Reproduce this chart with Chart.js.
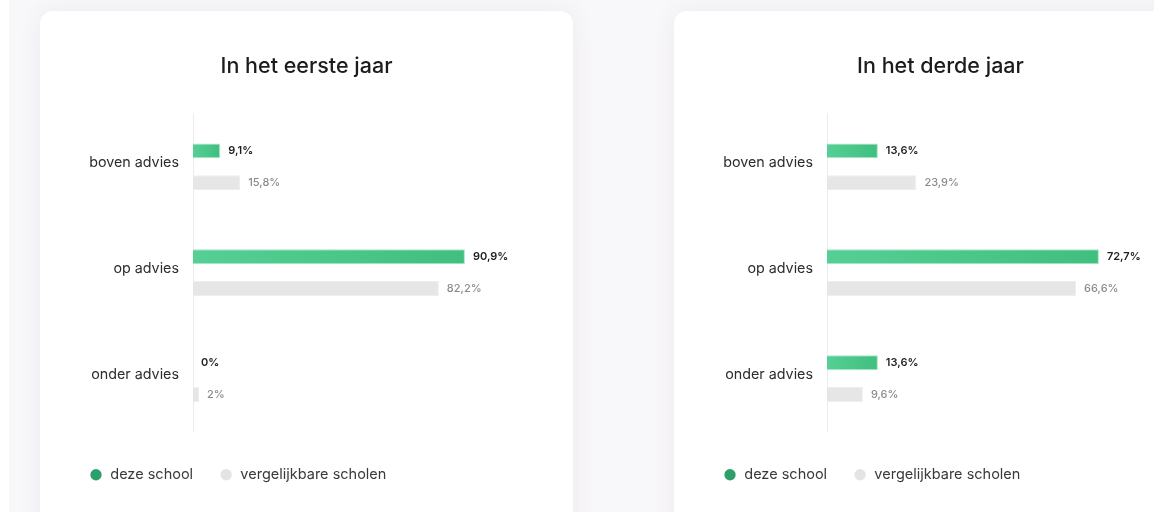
<!DOCTYPE html>
<html><head><meta charset="utf-8">
<script src="https://cdn.jsdelivr.net/npm/chart.js@4.4.0/dist/chart.umd.min.js"></script>
<style>
html,body{margin:0;padding:0;width:1154px;height:512px;overflow:hidden;background:#f8f7f9;}
.strip{position:absolute;left:0;top:0;width:9px;height:512px;background:#fff;}
.card{position:absolute;top:11px;width:533px;height:540px;background:#fff;border-radius:13px;box-shadow:0 0 24px rgba(100,70,130,0.07);}
.card canvas{position:absolute;left:20px;top:19px;width:493px;height:470px;}
</style></head>
<body>
<div class="strip"></div>
<div class="card" style="left:40px"><canvas id="c1" width="493" height="470"></canvas></div>
<div class="card" style="left:674px"><canvas id="c2" width="493" height="470"></canvas></div>
<script>
const categories = ['boven advies', 'op advies', 'onder advies'];
const seriesNames = ['deze school', 'vergelijkbare scholen'];
const titles = ['In het eerste jaar', 'In het derde jaar'];
const eersteDeze = [9.1, 90.9, 0];
const eersteVergelijk = [15.8, 82.2, 2];
const derdeDeze = [13.6, 72.7, 13.6];
const derdeVergelijk = [23.9, 66.6, 9.6];

const FONT = "Inter, 'Open Sans', sans-serif";
const legendColors = ['#2e9e6a', '#e4e4e4'];

function greenFill(c) {
  const chart = c.chart, xs = chart.scales && chart.scales.x;
  if (c.type !== 'data' || !xs) return '#4cc98a';
  const x0 = xs.getPixelForValue(0), x1 = xs.getPixelForValue(c.raw);
  if (!isFinite(x0) || !isFinite(x1) || x1 - x0 < 1) return '#4cc98a';
  const g = chart.ctx.createLinearGradient(x0, 0, x1, 0);
  g.addColorStop(0, '#56cf94');
  g.addColorStop(1, '#40bf7f');
  return g;
}

const valueLabels = {
  id: 'valueLabels',
  afterDatasetsDraw(chart) {
    const ctx = chart.ctx;
    ctx.save();
    ctx.textBaseline = 'middle';
    ctx.textAlign = 'left';
    chart.data.datasets.forEach((ds, di) => {
      const meta = chart.getDatasetMeta(di);
      ctx.fillStyle = di === 0 ? '#1f1f1f' : '#8a8a8a';
      ctx.font = (di === 0 ? '600' : '500') + ' 11px ' + FONT;
      meta.data.forEach((el, i) => {
        const txt = String(ds.data[i]).replace('.', ',') + '%';
        ctx.fillText(txt, el.x + 8, el.y);
      });
    });
    ctx.restore();
  }
};

function makeChart(id, title, deze, verg) {
  return new Chart(document.getElementById(id), {
    type: 'bar',
    data: {
      labels: categories,
      datasets: [
        { label: seriesNames[0], data: deze, backgroundColor: greenFill, borderColor: '#a9e6c7', borderWidth: 1, borderSkipped: 'start' },
        { label: seriesNames[1], data: verg, backgroundColor: '#e6e6e6', borderColor: '#eeeeee', borderWidth: 1, borderSkipped: 'start' }
      ]
    },
    options: {
      indexAxis: 'y',
      responsive: false,
      animation: false,
      categoryPercentage: 0.6,
      barPercentage: 0.47,
      layout: { padding: { left: 3, right: 3, top: 0, bottom: 8 } },
      scales: {
        x: { display: false, min: 0, max: Math.max(...deze, ...verg) * 1.313 },
        y: {
          grid: { display: false },
          border: { display: true, color: '#ececec', width: 1 },
          ticks: { padding: 6, color: '#2d2d2d', font: { family: FONT, size: 14.3 }, labelOffset: -4 },
          afterFit(s) { s.width = 130; }
        }
      },
      plugins: {
        tooltip: { enabled: false },
        title: { display: true, text: title, color: '#1c1c1c', font: { family: FONT, size: 21.5, weight: '500' }, padding: { top: 24, bottom: 34 } },
        legend: {
          position: 'bottom',
          align: 'start',
          title: { display: true, text: ' ', font: { size: 5 }, padding: { top: 4, bottom: 0 } },
          labels: {
            usePointStyle: true,
            pointStyle: 'circle',
            boxWidth: 14,
            boxHeight: 8,
            padding: 26,
            color: '#3a3a3a',
            font: { family: FONT, size: 14.5 },
            generateLabels(chart) {
              const items = Chart.defaults.plugins.legend.labels.generateLabels(chart);
              items.forEach((it, i) => { it.fillStyle = legendColors[i]; it.strokeStyle = legendColors[i]; it.lineWidth = 0; it.pointStyle = 'circle'; });
              return items;
            }
          }
        }
      }
    },
    plugins: [valueLabels]
  });
}

makeChart('c1', titles[0], eersteDeze, eersteVergelijk);
makeChart('c2', titles[1], derdeDeze, derdeVergelijk);
</script>
</body></html>
